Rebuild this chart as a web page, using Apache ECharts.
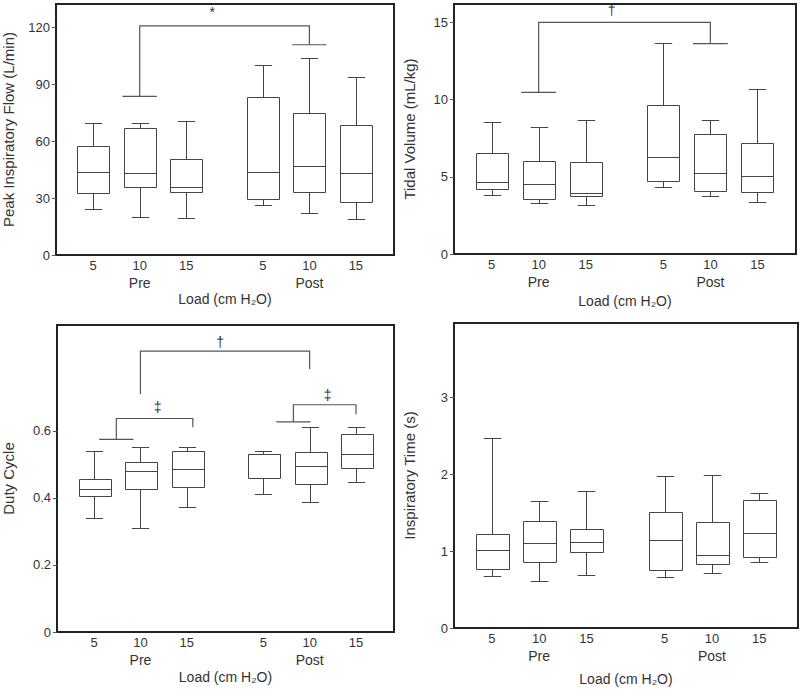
<!DOCTYPE html>
<html><head><meta charset="utf-8">
<script src="https://cdn.jsdelivr.net/npm/echarts@6/dist/echarts.min.js"></script>
<style>html,body{margin:0;padding:0;background:#fff}#c{width:800px;height:690px}</style>
</head><body><div id="c"></div>
<script>
// ---- data ----
const loadLabels = ['5', '10', '15', '5', '10', '15'];
const groupLabels = ['Pre', 'Post'];
const xPositions = [1, 2, 3, 4.65, 5.65, 6.65];
const groupPositions = [2, 5.65];

// each row: [low whisker, Q1, median, Q3, high whisker]
const peakFlow = [
  [24.3, 32.9, 44.0, 57.6, 69.6],
  [20.1, 35.9, 43.2, 66.8, 69.6],
  [19.7, 33.1, 35.9, 50.9, 70.7],
  [26.3, 29.8, 43.7, 83.3, 100.1],
  [22.0, 33.1, 46.9, 75.2, 104.0],
  [18.9, 27.8, 43.2, 68.4, 93.8]
];
const tidalVolume = [
  [3.84, 4.21, 4.64, 6.52, 8.52],
  [3.32, 3.54, 4.55, 6.02, 8.24],
  [3.17, 3.78, 3.95, 5.98, 8.68],
  [4.36, 4.75, 6.28, 9.62, 13.67],
  [3.76, 4.08, 5.22, 7.77, 8.68],
  [3.37, 4.02, 5.07, 7.16, 10.69]
];
const dutyCycle = [
  [0.340, 0.405, 0.428, 0.458, 0.540],
  [0.311, 0.428, 0.480, 0.508, 0.552],
  [0.372, 0.432, 0.486, 0.541, 0.553],
  [0.411, 0.459, 0.530, 0.530, 0.541],
  [0.388, 0.443, 0.496, 0.538, 0.613],
  [0.448, 0.488, 0.531, 0.590, 0.613]
];
const inspTime = [
  [0.671, 0.771, 1.02, 1.225, 2.468],
  [0.610, 0.857, 1.10, 1.398, 1.658],
  [0.688, 0.985, 1.12, 1.286, 1.779],
  [0.667, 0.758, 1.15, 1.515, 1.983],
  [0.710, 0.831, 0.95, 1.385, 1.991],
  [0.853, 0.922, 1.24, 1.667, 1.758]
];

// significance brackets: [xLeft, xRight, yTop, yLeftEnd, yRightEnd, leftCap(1/0), rightCap(1/0), markX, markY]
const flowBrackets = [[2, 5.65, 121.0, 83.7, 111.0, 1, 1, 3.56, 128.1]];
const flowMarks = ['*'];
const tidalBrackets = [[2, 5.65, 15.0, 10.47, 13.62, 1, 1, 3.55, 15.78]];
const tidalMarks = ['\u2020'];
const dutyBrackets = [
  [2, 5.65, 0.838, 0.710, 0.785, 0, 0, 3.72, 0.866],
  [1.48, 3.13, 0.637, 0.575, 0.611, 1, 0, 2.37, 0.671],
  [5.3, 6.65, 0.678, 0.627, 0.650, 1, 0, 6.04, 0.706]
];
const dutyMarks = ['\u2020', '\u2021', '\u2021'];

const yTicksFlow = [0, 30, 60, 90, 120];
const yTicksTidal = [0, 5, 10, 15];
const yTicksDuty = [0, 0.2, 0.4, 0.6];
const yTicksInsp = [0, 1, 2, 3];

// ---- styling ----
const FONT = 'Liberation Sans, Arial, Helvetica, sans-serif';
const BOX_LINE = '#444';
const BR_LINE = '#555';
const FRAME = '#222';
const TEXT = '#333';
const BOX_W = 0.69, CAP_W = 0.37, BR_CAP_W = 0.74;

const panels = [
  {grid: {left: 50, top: 4, width: 344, height: 251}, ymax: 132.5, ticks: yTicksFlow, name: 'Peak Inspiratory Flow (L/min)', nameGap: 40, data: peakFlow, brackets: flowBrackets, marks: flowMarks, loadGap: 37},
  {grid: {left: 454, top: 4, width: 342, height: 250}, ymax: 16.19, ticks: yTicksTidal, name: 'Tidal Volume (mL/kg)', nameGap: 37, data: tidalVolume, brackets: tidalBrackets, marks: tidalMarks, loadGap: 40},
  {grid: {left: 51, top: 325, width: 343, height: 307}, ymax: 0.916, ticks: yTicksDuty, name: 'Duty Cycle', nameGap: 41, data: dutyCycle, brackets: dutyBrackets, marks: dutyMarks, loadGap: 38},
  {grid: {left: 454, top: 323, width: 344, height: 305}, ymax: 3.97, ticks: yTicksInsp, name: 'Inspiratory Time (s)', nameGap: 37, data: inspTime, brackets: [], marks: [], loadGap: 44}
];

function boxRender(params, api) {
  const x = api.value(0);
  const lo = api.coord([x, api.value(1)]);
  const q1 = api.coord([x, api.value(2)]);
  const md = api.coord([x, api.value(3)]);
  const q3 = api.coord([x, api.value(4)]);
  const hi = api.coord([x, api.value(5)]);
  const bw = api.size([BOX_W, 0])[0];
  const cw = api.size([CAP_W, 0])[0];
  const cx = Math.round(lo[0]) + 0.5;
  const st = {stroke: BOX_LINE, lineWidth: 1, fill: null};
  const ln = (x1, y1, x2, y2) => ({type: 'line', shape: {x1, y1, x2, y2}, style: st});
  const r = (v) => Math.round(v) + 0.5;
  const bl = Math.round(cx - bw / 2) + 0.5;
  const bwr = Math.round(bw);
  return {type: 'group', children: [
    ln(cx, r(lo[1]), cx, r(q1[1])),
    ln(cx, r(q3[1]), cx, r(hi[1])),
    ln(cx - cw / 2, r(lo[1]), cx + cw / 2, r(lo[1])),
    ln(cx - cw / 2, r(hi[1]), cx + cw / 2, r(hi[1])),
    {type: 'rect', shape: {x: bl, y: r(q3[1]), width: bwr, height: r(q1[1]) - r(q3[1])}, style: {stroke: BOX_LINE, lineWidth: 1, fill: '#fff'}},
    ln(bl, r(md[1]), bl + bwr, r(md[1]))
  ]};
}

function makeBracketRender(marks) {
  return function (params, api) {
    const xl = api.value(0), xr = api.value(1);
    const top = api.value(2), e1 = api.value(3), e2 = api.value(4);
    const c1 = api.value(5), c2 = api.value(6);
    const p1 = api.coord([xl, e1]), p2 = api.coord([xl, top]);
    const p3 = api.coord([xr, top]), p4 = api.coord([xr, e2]);
    const cw = api.size([BR_CAP_W, 0])[0];
    const st = {stroke: BR_LINE, lineWidth: 1.2, fill: null};
    const children = [
      {type: 'polyline', shape: {points: [p1, p2, p3, p4]}, style: st}
    ];
    if (c1) children.push({type: 'line', shape: {x1: p1[0] - cw / 2, y1: p1[1], x2: p1[0] + cw / 2, y2: p1[1]}, style: st});
    if (c2) children.push({type: 'line', shape: {x1: p4[0] - cw / 2, y1: p4[1], x2: p4[0] + cw / 2, y2: p4[1]}, style: st});
    const m = api.coord([api.value(7), api.value(8)]);
    children.push({type: 'text', x: m[0], y: m[1], style: {text: marks[params.dataIndex], fill: TEXT, fontSize: 14, fontFamily: FONT, align: 'center', verticalAlign: 'middle'}});
    return {type: 'group', children};
  };
}

const option = {animation: false, backgroundColor: '#fff', color: [TEXT], grid: [], xAxis: [], yAxis: [], series: []};

panels.forEach((p, i) => {
  option.grid.push(Object.assign({show: true, borderColor: FRAME, borderWidth: 2, backgroundColor: 'transparent', containLabel: false}, p.grid));
  option.xAxis.push({
    type: 'value', gridIndex: i, min: 0.2, max: 7.47, position: 'bottom',
    axisLine: {show: true, lineStyle: {color: FRAME, width: 2}},
    axisTick: {show: false},
    splitLine: {show: false},
    axisLabel: {
      customValues: xPositions, margin: 4, fontSize: 13, color: TEXT, fontFamily: FONT,
      formatter: (v) => { const k = xPositions.findIndex(q => Math.abs(q - v) < 1e-6); return k >= 0 ? loadLabels[k] : ''; }
    },
    name: 'Load (cm H\u2082O)', nameLocation: 'middle', nameGap: p.loadGap,
    nameTextStyle: {fontSize: 14, color: TEXT, fontFamily: FONT}
  });
  option.xAxis.push({
    type: 'value', gridIndex: i, min: 0.2, max: 7.47, position: 'bottom',
    axisLine: {show: false}, axisTick: {show: false}, splitLine: {show: false},
    axisLabel: {
      customValues: groupPositions, margin: 21, fontSize: 14, color: TEXT, fontFamily: FONT,
      formatter: (v) => { const k = groupPositions.findIndex(q => Math.abs(q - v) < 1e-6); return k >= 0 ? groupLabels[k] : ''; }
    }
  });
  option.yAxis.push({
    type: 'value', gridIndex: i, min: 0, max: p.ymax,
    axisLine: {show: true, lineStyle: {color: FRAME, width: 2}},
    axisTick: {show: true, length: 4, customValues: p.ticks, lineStyle: {color: '#555'}},
    splitLine: {show: false},
    axisLabel: {customValues: p.ticks, margin: 6, fontSize: 13, color: TEXT, fontFamily: FONT},
    name: p.name, nameLocation: 'middle', nameGap: p.nameGap, nameRotate: 90,
    nameTextStyle: {fontSize: 15, color: TEXT, fontFamily: FONT}
  });
  option.series.push({
    type: 'custom', xAxisIndex: 2 * i, yAxisIndex: i,
    itemStyle: {color: TEXT},
    renderItem: boxRender,
    encode: {x: 0, y: [1, 2, 3, 4, 5]},
    data: p.data.map((row, k) => [xPositions[k]].concat(row)),
    z: 3
  });
  if (p.brackets.length) {
    option.series.push({
      type: 'custom', xAxisIndex: 2 * i, yAxisIndex: i,
      itemStyle: {color: TEXT},
      renderItem: makeBracketRender(p.marks),
      encode: {x: [0, 1], y: [2, 3, 4]},
      data: p.brackets,
      z: 2
    });
  }
});

const chart = echarts.init(document.getElementById('c'), null, {renderer: 'svg'});
chart.setOption(option);
</script>
</body></html>
